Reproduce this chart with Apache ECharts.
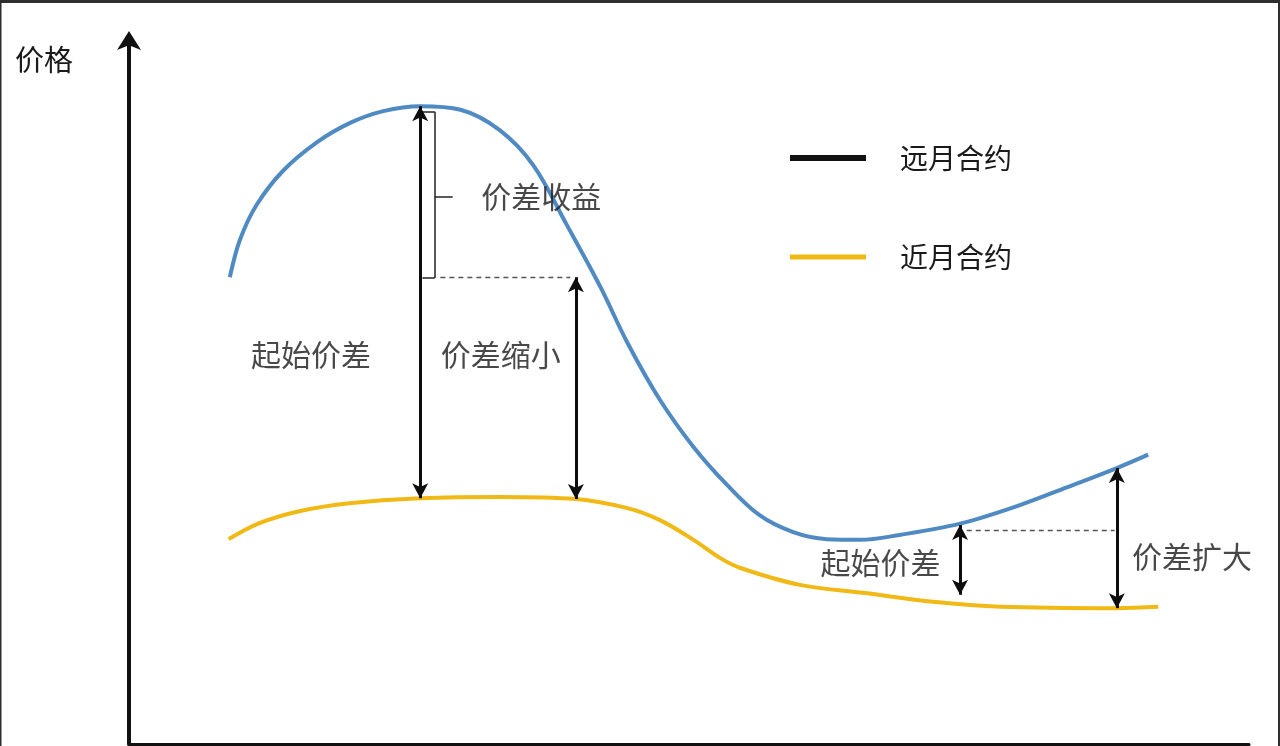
<!DOCTYPE html>
<html>
<head>
<meta charset="utf-8">
<script src="https://cdn.jsdelivr.net/npm/echarts@6/dist/echarts.min.js"></script>
<style>
html,body{margin:0;padding:0;background:#fff;}
#chart{width:1280px;height:746px;}
</style>
</head>
<body>
<div id="chart"></div>
<script>
// ---- data (time on x, price on y, arbitrary units) ----
const farName = '远月合约';
const nearName = '近月合约';
const farX = [9.0, 9.9, 11.4, 13.8, 16.8, 19.7, 22.7, 26.0, 29.6, 33.1, 36.1, 39.1, 42.1, 44.5, 47.4, 50.4, 53.4, 56.3, 59.3, 62.3, 65.3, 68.8, 74.2, 79.3, 83.8, 88.2, 91.0];
const farPrice = [66.3, 71.6, 76.6, 81.5, 85.5, 88.2, 89.9, 90.6, 90.1, 87.2, 82.2, 73.7, 64.9, 57.0, 48.9, 42.2, 36.8, 32.5, 30.1, 29.1, 29.0, 29.7, 31.3, 33.8, 36.5, 39.2, 41.1];
const nearX = [8.9, 11.7, 15.3, 19.7, 26.0, 33.1, 39.9, 44.5, 47.4, 50.4, 52.8, 54.6, 59.9, 65.9, 71.8, 77.8, 88.2, 91.9];
const nearPrice = [29.1, 31.4, 33.1, 34.2, 34.9, 35.1, 34.8, 33.5, 31.8, 29.0, 26.4, 25.0, 22.6, 21.4, 20.2, 19.5, 19.3, 19.5];

// spreads (double arrows)
const spreadX = [26.0, 39.9, 74.2, 88.2];
const spreadTop = [90.6, 66.3, 31.1, 39.2];
const spreadBottom = [34.9, 34.8, 21.2, 19.3];

// dashed reference levels
const refLevel = [66.3, 30.4];
const refFrom = [27.8, 74.8];
const refTo = [39.4, 88.0];

// bracket for 价差收益
const bracketX = [26.2, 27.3, 28.9];
const bracketY = [89.8, 77.8, 66.2];

// annotation texts
const noteNames = ['价差收益', '起始价差', '价差缩小', '起始价差', '价差扩大'];
const noteX = [36.8, 16.25, 33.2, 67.1, 94.9];
const noteY = [77.7, 55.3, 55.3, 25.7, 26.6];

const FONT = "'Noto Sans CJK SC', 'Noto Sans', sans-serif";
const TXT = '#1a1a1a';

const farData = farX.map((x, i) => [x, farPrice[i]]);
const nearData = nearX.map((x, i) => [x, nearPrice[i]]);

const arrowLines = spreadX.map((x, i) => [
  { coord: [x, spreadTop[i]] },
  { coord: [x, spreadBottom[i]] }
]);

const guideLines = [];
refLevel.forEach((lv, i) => {
  guideLines.push([
    { coord: [refFrom[i], lv], lineStyle: { type: [5, 4], color: '#555', width: 1.3 } },
    { coord: [refTo[i], lv] }
  ]);
});
// bracket segments
guideLines.push([{ coord: [bracketX[0], bracketY[0]] }, { coord: [bracketX[1], bracketY[0]] }]);
guideLines.push([{ coord: [bracketX[1], bracketY[0]] }, { coord: [bracketX[1], bracketY[2]] }]);
guideLines.push([{ coord: [bracketX[0], bracketY[2]] }, { coord: [bracketX[1], bracketY[2]] }]);
guideLines.push([{ coord: [bracketX[1], bracketY[1]] }, { coord: [bracketX[2], bracketY[1]] }]);

const notes = noteNames.map((n, i) => ({ name: n, value: [noteX[i], noteY[i]] }));

const chart = echarts.init(document.getElementById('chart'), null, { renderer: 'canvas' });
chart.setOption({
  animation: false,
  backgroundColor: '#ffffff',
  title: {
    text: '价格',
    left: 10, top: 40,
    textStyle: { fontFamily: FONT, fontSize: 29, fontWeight: 'normal', color: TXT }
  },
  legend: [
    {
      data: [{ name: farName, itemStyle: { color: '#111111' } }],
      left: 790, top: 144, padding: 0,
      icon: 'rect', itemWidth: 76, itemHeight: 6,
      selectedMode: false,
      textStyle: { fontFamily: FONT, fontSize: 28, color: TXT, padding: [0, 0, 0, 29] }
    },
    {
      data: [{ name: nearName, itemStyle: { color: '#F0B915' } }],
      left: 790, top: 243, padding: 0,
      icon: 'rect', itemWidth: 76, itemHeight: 5,
      selectedMode: false,
      textStyle: { fontFamily: FONT, fontSize: 28, color: TXT, padding: [0, 0, 0, 29] }
    }
  ],
  grid: { left: 129, right: 31, top: 40, bottom: 2, containLabel: false },
  xAxis: {
    type: 'value', min: 0, max: 100,
    axisLine: { show: true, lineStyle: { color: '#111', width: 3 } },
    axisTick: { show: false }, axisLabel: { show: false }, splitLine: { show: false }
  },
  yAxis: {
    type: 'value', min: 0, max: 100,
    axisLine: {
      show: true, symbol: ['none', 'arrow'], symbolSize: [18, 19], symbolOffset: [0, 9],
      lineStyle: { color: '#111', width: 4 }
    },
    axisTick: { show: false }, axisLabel: { show: false }, splitLine: { show: false }
  },
  graphic: [
    { type: 'rect', shape: { x: 0, y: 0, width: 1280, height: 3 }, style: { fill: '#2e2e2e' }, z: 100 },
    { type: 'rect', shape: { x: 0, y: 0, width: 1.5, height: 746 }, style: { fill: '#2e2e2e' }, z: 100 },
    { type: 'rect', shape: { x: 1278, y: 0, width: 2, height: 746 }, style: { fill: '#2e2e2e' }, z: 100 }
  ],
  series: [
    {
      name: farName, type: 'line', data: farData, smooth: 0.35, symbol: 'none',
      lineStyle: { color: '#4F8AC3', width: 4 }, itemStyle: { color: '#4F8AC3' },
      z: 2,
      markLine: {
        silent: true, animation: false,
        symbol: ['arrow', 'arrow'], symbolSize: [12, 15],
        label: { show: false },
        lineStyle: { color: '#0d0d0d', width: 3, type: 'solid' },
        emphasis: { disabled: true },
        data: arrowLines,
        z: 5
      }
    },
    {
      name: nearName, type: 'line', data: nearData, smooth: 0.35, symbol: 'none',
      lineStyle: { color: '#F0B915', width: 4 }, itemStyle: { color: '#F0B915' },
      z: 1,
      markLine: {
        silent: true, animation: false,
        symbol: ['none', 'none'],
        label: { show: false },
        lineStyle: { color: '#222', width: 1.5, type: 'solid' },
        emphasis: { disabled: true },
        data: guideLines,
        z: 4
      }
    },
    {
      name: 'notes', type: 'scatter', data: notes, symbolSize: 1,
      itemStyle: { color: 'transparent' }, silent: true,
      label: {
        show: true, position: 'inside', formatter: '{b}',
        fontFamily: FONT, fontSize: 30, color: TXT
      },
      z: 6
    }
  ]
});
</script>
</body>
</html>
